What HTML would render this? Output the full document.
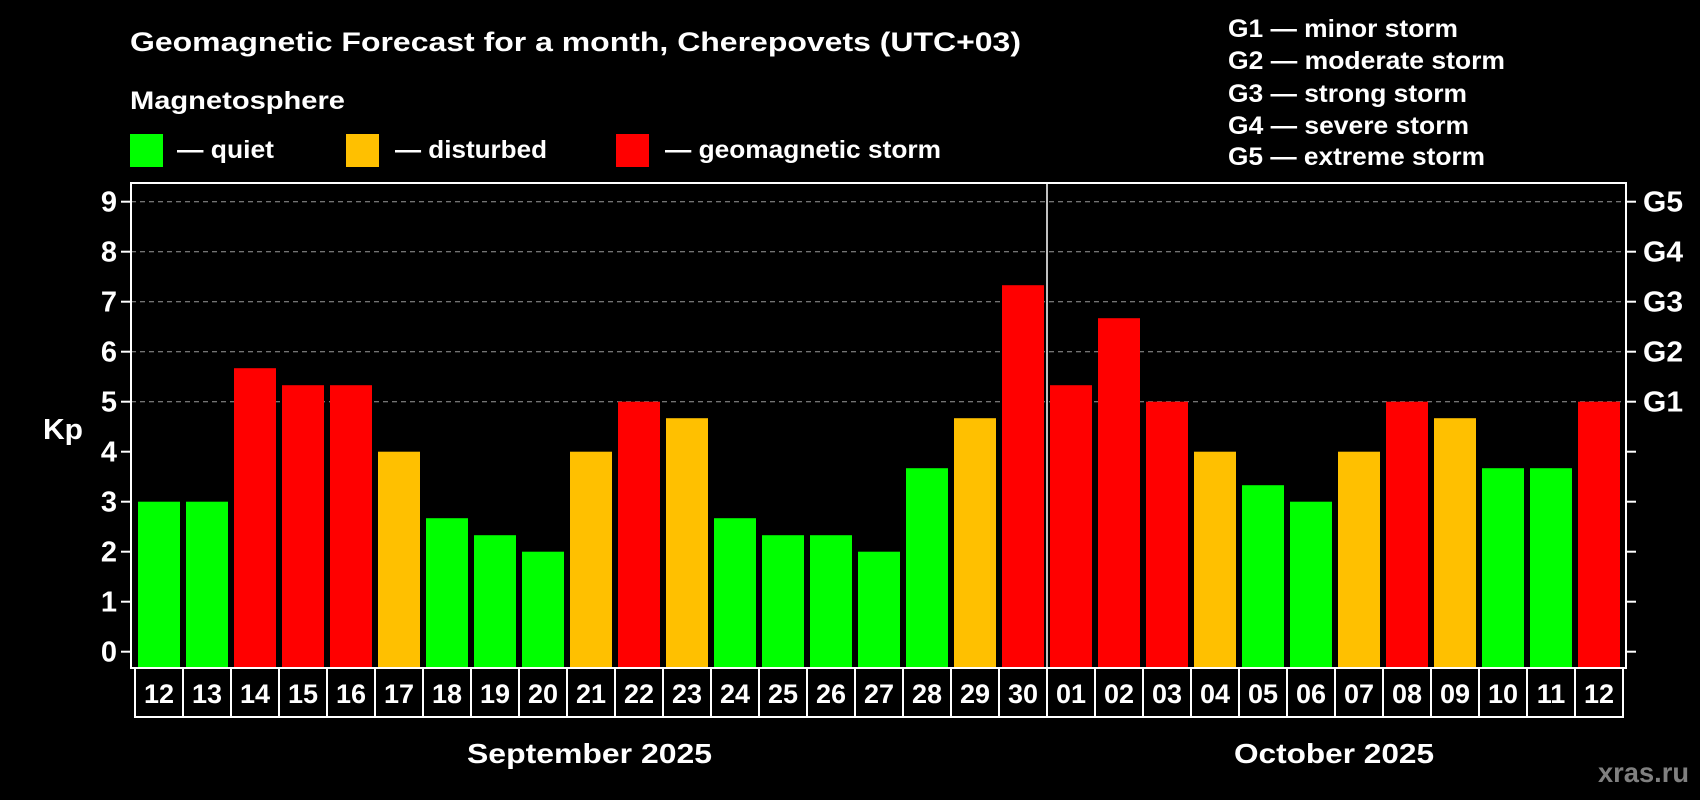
<!DOCTYPE html>
<html><head><meta charset="utf-8"><style>
html,body{margin:0;padding:0;background:#000;}
svg{display:block;font-family:"Liberation Sans",Arial,sans-serif;font-weight:bold;}
</style></head><body>
<svg id="chart" width="1700" height="800" viewBox="0 0 1700 800">
<rect width="1700" height="800" fill="#000"/>
<text x="130" y="51" fill="#fff" font-size="27" textLength="891" lengthAdjust="spacingAndGlyphs">Geomagnetic Forecast for a month, Cherepovets (UTC+03)</text>
<text x="130" y="109" fill="#fff" font-size="25" textLength="215" lengthAdjust="spacingAndGlyphs">Magnetosphere</text>
<g>
<rect x="130" y="134" width="33" height="33" fill="#00ff00"/>
<text x="177" y="158" fill="#fff" font-size="25" textLength="97" lengthAdjust="spacingAndGlyphs">— quiet</text></g>
<g>
<rect x="346" y="134" width="33" height="33" fill="#ffc000"/>
<text x="395" y="158" fill="#fff" font-size="25" textLength="152" lengthAdjust="spacingAndGlyphs">— disturbed</text></g>
<g>
<rect x="616" y="134" width="33" height="33" fill="#ff0000"/>
<text x="665" y="158" fill="#fff" font-size="25" textLength="276" lengthAdjust="spacingAndGlyphs">— geomagnetic storm</text></g>
<g font-size="25" fill="#fff">
<text x="1228" y="37" textLength="230" lengthAdjust="spacingAndGlyphs">G1 — minor storm</text>
<text x="1228" y="69" textLength="277" lengthAdjust="spacingAndGlyphs">G2 — moderate storm</text>
<text x="1228" y="102" textLength="239" lengthAdjust="spacingAndGlyphs">G3 — strong storm</text>
<text x="1228" y="134" textLength="241" lengthAdjust="spacingAndGlyphs">G4 — severe storm</text>
<text x="1228" y="165" textLength="257" lengthAdjust="spacingAndGlyphs">G5 — extreme storm</text>
</g>
<text x="43" y="439" fill="#fff" font-size="29" textLength="40" lengthAdjust="spacingAndGlyphs">Kp</text>
<g id="grid"></g><g id="bars"></g><g id="axes"></g><g id="dates"></g>
<text x="467" y="763" fill="#fff" font-size="28" textLength="245" lengthAdjust="spacingAndGlyphs">September 2025</text>
<text x="1234" y="763" fill="#fff" font-size="28" textLength="200" lengthAdjust="spacingAndGlyphs">October 2025</text>
<text x="1598" y="782" fill="#808080" font-size="28" textLength="91" lengthAdjust="spacingAndGlyphs">xras.ru</text>
</svg>
<script>
const days = ["12","13","14","15","16","17","18","19","20","21","22","23","24","25","26","27","28","29","30","01","02","03","04","05","06","07","08","09","10","11","12"];
const kp = [3,3,5.67,5.33,5.33,4,2.67,2.33,2,4,5,4.67,2.67,2.33,2.33,2,3.67,4.67,7.33,5.33,6.67,5,4,3.33,3,4,5,4.67,3.67,3.67,5];
const yTicks = [0,1,2,3,4,5,6,7,8,9];
const gLabels = ["G1","G2","G3","G4","G5"];
const gLevels = [5,6,7,8,9];
const NS="http://www.w3.org/2000/svg";
const L=131,R=1626,T=183,B=668;
function y(v){return 651.7-v*50;}
function x(i){return 138+i*48;}
function mk(tag,attrs,parent,txt){const e=document.createElementNS(NS,tag);for(const k in attrs)e.setAttribute(k,attrs[k]);if(txt!==undefined)e.textContent=txt;parent.appendChild(e);return e;}
const grid=document.getElementById('grid'),bars=document.getElementById('bars'),axes=document.getElementById('axes'),dates=document.getElementById('dates');
gLevels.forEach(g=>{const l=mk('line',{x1:L,x2:R,y1:y(g),y2:y(g),stroke:'#9a9a9a','stroke-width':1,'stroke-dasharray':'5,4'},grid);

});
kp.forEach((v,i)=>{const c=v>=5?'#ff0000':(v>=4?'#ffc000':'#00ff00');
const r=mk('rect',{x:x(i),y:y(v),width:42,height:B-y(v),fill:c},bars);

});
const frame=mk('rect',{x:L,y:T,width:R-L,height:B-T,fill:'none',stroke:'#fff','stroke-width':2},axes);


const div=mk('line',{x1:1047,x2:1047,y1:T,y2:B,stroke:'#fff','stroke-width':1.5},axes);


yTicks.forEach(t=>{mk('line',{x1:L-10,x2:L,y1:y(t),y2:y(t),stroke:'#fff','stroke-width':2},axes);
mk('line',{x1:R,x2:R+10,y1:y(t),y2:y(t),stroke:'#fff','stroke-width':2},axes);
const tx=mk('text',{x:117,y:y(t)+10,fill:'#fff','font-size':29,'text-anchor':'end'},axes,String(t));

});
gLevels.forEach((g,i)=>{const tx=mk('text',{x:1643,y:y(g)+10,fill:'#fff','font-size':29,textLength:40,lengthAdjust:'spacingAndGlyphs'},axes,gLabels[i]);

});
days.forEach((d,i)=>{const bx=135+i*48;
const r=mk('rect',{x:bx,y:B,width:48,height:49,fill:'none',stroke:'#fff','stroke-width':2},dates);


const tx=mk('text',{x:bx+24,y:B+35,fill:'#fff','font-size':27,'text-anchor':'middle'},dates,d);

});
</script>
</body></html>
